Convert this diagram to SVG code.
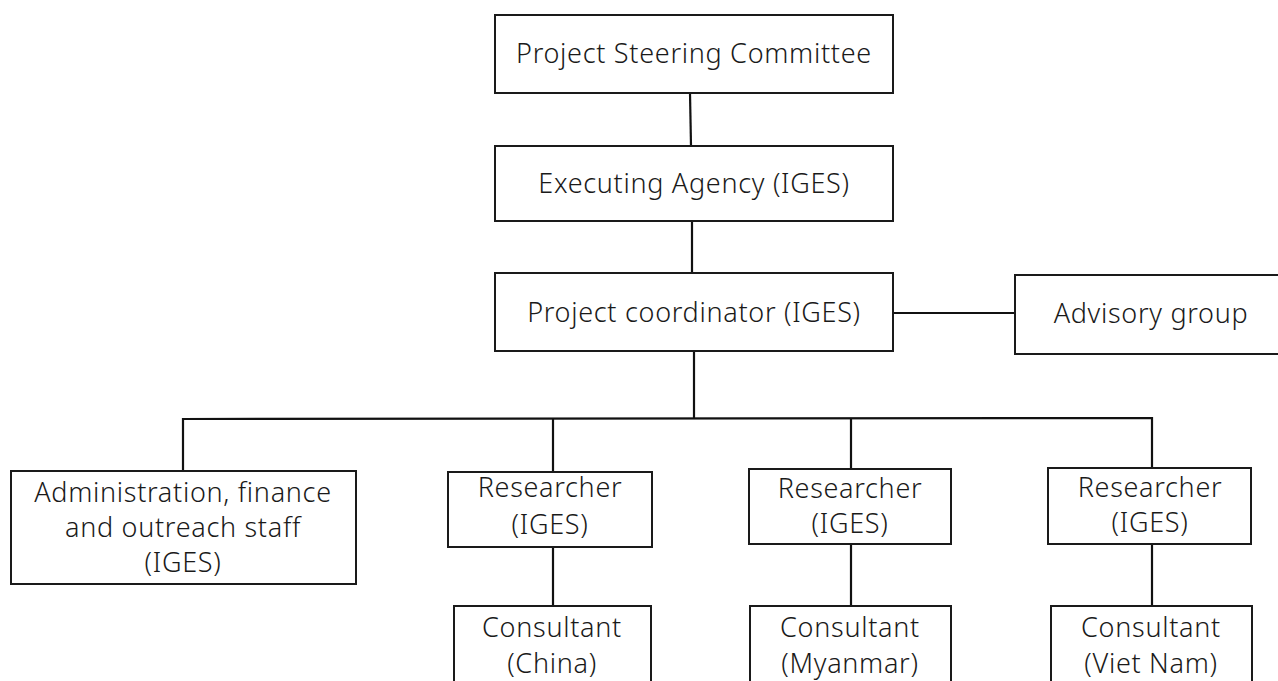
<svg xmlns="http://www.w3.org/2000/svg" width="1278" height="681" viewBox="0 0 1278 681">
<style>
.box{fill:#fff;stroke:#1a1a1a;stroke-width:2}
.t{font-family:"Noto Sans","Noto Sans CJK JP",sans-serif;font-size:27px;font-weight:300;fill:#1a1a1a;text-anchor:middle;letter-spacing:0.7px}
.c{stroke:#111;stroke-width:2.2;fill:none}
</style>
<rect width="1278" height="681" fill="#fff"/>
<g id="connectors">
<line class="c" x1="690" y1="93" x2="691" y2="146"/>
<line class="c" x1="692" y1="221" x2="692" y2="273"/>
<line class="c" x1="893" y1="313" x2="1016" y2="313"/>
<line class="c" x1="694" y1="351" x2="694" y2="419"/>
<polyline class="c" points="183,471 183,419 1152,418 1152,468"/>
<line class="c" x1="553" y1="419" x2="553" y2="472"/>
<line class="c" x1="851" y1="419" x2="851" y2="469"/>
<line class="c" x1="553" y1="547" x2="553" y2="606"/>
<line class="c" x1="851" y1="544" x2="851" y2="606"/>
<line class="c" x1="1152" y1="544" x2="1152" y2="606"/>
</g>
<g id="steering"><rect class="box" x="495" y="15" width="398" height="78"/><text class="t" x="694" y="63">Project Steering Committee</text></g>
<g id="executing"><rect class="box" x="495" y="146" width="398" height="75"/><text class="t" x="694" y="193">Executing Agency (IGES)</text></g>
<g id="coordinator"><rect class="box" x="495" y="273" width="398" height="78"/><text class="t" x="694" y="322">Project coordinator (IGES)</text></g>
<g id="advisory"><rect class="box" x="1015" y="275" width="270" height="79"/><text class="t" x="1151" y="323">Advisory group</text></g>
<g id="admin"><rect class="box" x="11" y="471" width="345" height="113"/><text class="t" x="183" y="502">Administration, finance</text><text class="t" x="183" y="537">and outreach staff</text><text class="t" x="183" y="572">(IGES)</text></g>
<g id="researcher1"><rect class="box" x="448" y="472" width="204" height="75"/><text class="t" x="550" y="497">Researcher</text><text class="t" x="550" y="534">(IGES)</text></g>
<g id="researcher2"><rect class="box" x="749" y="469" width="202" height="75"/><text class="t" x="850" y="498">Researcher</text><text class="t" x="850" y="533">(IGES)</text></g>
<g id="researcher3"><rect class="box" x="1048" y="468" width="203" height="76"/><text class="t" x="1150" y="497">Researcher</text><text class="t" x="1150" y="532">(IGES)</text></g>
<g id="consultant1"><rect class="box" x="454" y="606" width="197" height="90"/><text class="t" x="552" y="637">Consultant</text><text class="t" x="552" y="673">(China)</text></g>
<g id="consultant2"><rect class="box" x="750" y="606" width="201" height="90"/><text class="t" x="850" y="637">Consultant</text><text class="t" x="850" y="673">(Myanmar)</text></g>
<g id="consultant3"><rect class="box" x="1051" y="606" width="201" height="90"/><text class="t" x="1151" y="637">Consultant</text><text class="t" x="1151" y="673">(Viet Nam)</text></g>
</svg>
